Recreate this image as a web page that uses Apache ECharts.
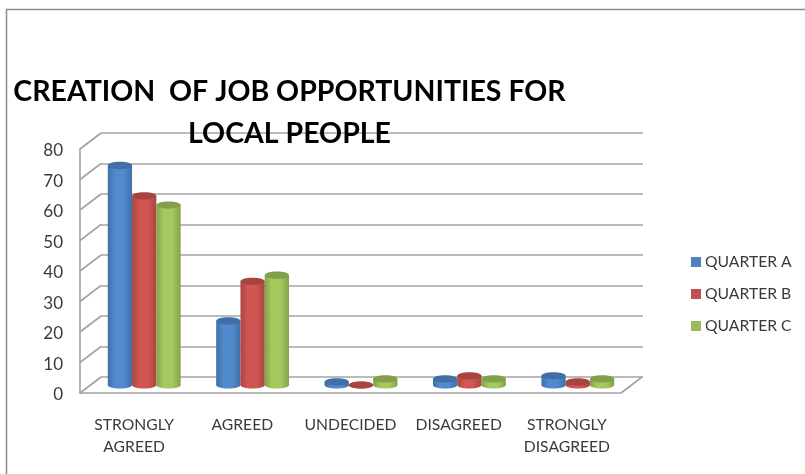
<!DOCTYPE html>
<html>
<head>
<meta charset="utf-8">
<script src="https://cdn.jsdelivr.net/npm/echarts@6/dist/echarts.min.js"></script>
<style>
  html, body { margin: 0; padding: 0; background: #fff; }
  #chart { width: 805px; height: 474px; }
</style>
</head>
<body>
<div id="chart"></div>
<script>
const categories = ['STRONGLY\nAGREED', 'AGREED', 'UNDECIDED', 'DISAGREED', 'STRONGLY\nDISAGREED'];
const quarterA = [72, 21, 1, 2, 3];
const quarterB = [62, 34, 0, 3, 1];
const quarterC = [59, 36, 2, 2, 2];
const yTicks = [0, 10, 20, 30, 40, 50, 60, 70, 80];

const FONT = 'Lato, "Open Sans", sans-serif';
const GRID_COLOR = '#a3a3a3';
const TEXT_COLOR = '#3a3a3a';
const DEPTH_X = 21;
const DEPTH_Y = -16;

// Shades per cylinder: side edge, lit centre, top cap.
const shades = {
  'QUARTER A': { base: '#4f81bd', edge: '#3f6fa6', lit: '#528bcd', cap: '#3f6fa6' },
  'QUARTER B': { base: '#c0504d', edge: '#a84643', lit: '#d15653', cap: '#a84340' },
  'QUARTER C': { base: '#9bbb59', edge: '#83a24a', lit: '#a6c95f', cap: '#82a04a' }
};

function cylinderSeries(name, values, slot) {
  const s = shades[name];
  return {
    name,
    type: 'custom',
    xAxisIndex: 1,
    yAxisIndex: 1,
    itemStyle: { color: s.base },
    data: values.map((v, i) => [i, v]),
    z: 5,
    clip: false,
    renderItem(params, api) {
      const band = api.size([1, 0])[0];
      const w = band * 0.224;
      const top = api.coord([api.value(0), api.value(1)]);
      const base = api.coord([api.value(0), 0]);
      const cx = top[0] + (slot - 1) * w;
      const rx = w / 2;
      const ry = 3.6;
      const fill = {
        type: 'linear', x: 0, y: 0, x2: 1, y2: 0,
        colorStops: [
          { offset: 0, color: s.edge },
          { offset: 0.3, color: s.lit },
          { offset: 0.65, color: s.lit },
          { offset: 1, color: s.edge }
        ]
      };
      return {
        type: 'group',
        children: [
          { type: 'ellipse', shape: { cx, cy: base[1], rx, ry }, style: { fill } },
          { type: 'rect', shape: { x: cx - rx, y: top[1], width: w, height: base[1] - top[1] }, style: { fill } },
          { type: 'ellipse', shape: { cx, cy: top[1], rx, ry }, style: { fill: s.cap } }
        ]
      };
    }
  };
}

// Oblique strokes joining the front axis to the back wall, plus the floor's right edge.
const wallSeries = {
  name: 'wall',
  type: 'custom',
  xAxisIndex: 0,
  yAxisIndex: 0,
  silent: true,
  clip: false,
  z: 1,
  data: yTicks.map(v => [0, v]),
  renderItem(params, api) {
    const band = api.size([1, 0])[0];
    const p = api.coord([0, api.value(1)]);
    const x = p[0] - band / 2;
    const style = { stroke: GRID_COLOR, lineWidth: 1.6 };
    const children = [
      { type: 'line', shape: { x1: x, y1: p[1], x2: x + DEPTH_X, y2: p[1] + DEPTH_Y }, style }
    ];
    if (api.value(1) === 0) {
      const xr = api.coord([categories.length - 1, 0])[0] + band / 2;
      children.push({ type: 'line', shape: { x1: xr, y1: p[1], x2: xr + DEPTH_X, y2: p[1] + DEPTH_Y }, style });
    }
    return { type: 'group', children };
  }
};

const valueAxisBase = { type: 'value', min: 0, max: 80, interval: 10 };

const option = {
  animation: false,
  backgroundColor: '#fff',
  textStyle: { fontFamily: FONT },
  title: {
    text: 'CREATION  OF JOB OPPORTUNITIES FOR\nLOCAL PEOPLE',
    left: 284.5,
    top: 66,
    textAlign: 'center',
    textStyle: {
      fontFamily: FONT,
      fontSize: 28.5,
      fontWeight: 'bold',
      color: '#000',
      lineHeight: 42
    }
  },
  legend: {
    data: ['QUARTER A', 'QUARTER B', 'QUARTER C'],
    orient: 'vertical',
    left: 686,
    top: 249,
    itemWidth: 10,
    itemHeight: 10,
    itemGap: 16,
    icon: 'rect',
    textStyle: { fontFamily: FONT, fontSize: 15.7, color: TEXT_COLOR, padding: [0, 0, 0, -1] }
  },
  grid: [
    { left: 80, top: 149, width: 541, height: 244 },   // front plane with the axes
    { left: 90, top: 141, width: 542, height: 244 },   // mid plane holding the cylinders
    { left: 101, top: 133, width: 542, height: 244 }   // back wall
  ],
  xAxis: [0, 1, 2].map(i => ({
    type: 'category',
    gridIndex: i,
    data: categories,
    axisTick: { show: false },
    axisLine: { show: i === 0, lineStyle: { color: GRID_COLOR, width: 1.6 } },
    axisLabel: i === 0
      ? { show: true, interval: 0, fontFamily: FONT, fontSize: 15.7, color: TEXT_COLOR, lineHeight: 22, margin: 21 }
      : { show: false }
  })),
  yAxis: [
    Object.assign({}, valueAxisBase, {
      gridIndex: 0,
      axisLine: { show: true, lineStyle: { color: GRID_COLOR, width: 1.6 } },
      axisTick: { show: false },
      splitLine: { show: false },
      axisLabel: {
        margin: 17,
        formatter: '{n|{value}}',
        rich: { n: { fontFamily: FONT, fontSize: 17, color: TEXT_COLOR, padding: [4, 0, 0, 0] } }
      }
    }),
    Object.assign({}, valueAxisBase, {
      gridIndex: 1,
      axisLine: { show: false },
      axisTick: { show: false },
      splitLine: { show: false },
      axisLabel: { show: false }
    }),
    Object.assign({}, valueAxisBase, {
      gridIndex: 2,
      axisLine: { show: false },
      axisTick: { show: false },
      splitLine: { show: true, lineStyle: { color: GRID_COLOR, width: 1.6 } },
      axisLabel: { show: false }
    })
  ],
  series: [
    wallSeries,
    cylinderSeries('QUARTER A', quarterA, 0),
    cylinderSeries('QUARTER B', quarterB, 1),
    cylinderSeries('QUARTER C', quarterC, 2)
  ],
  // Outer chart frame.
  graphic: [
    {
      type: 'polyline',
      silent: true,
      shape: { points: [[6.5, 474], [6.5, 9.5], [805, 9.5]] },
      style: { fill: null, stroke: '#8c8c8c', lineWidth: 1.5 }
    }
  ]
};

echarts.init(document.getElementById('chart'), null, { renderer: 'canvas' }).setOption(option);
</script>
</body>
</html>
